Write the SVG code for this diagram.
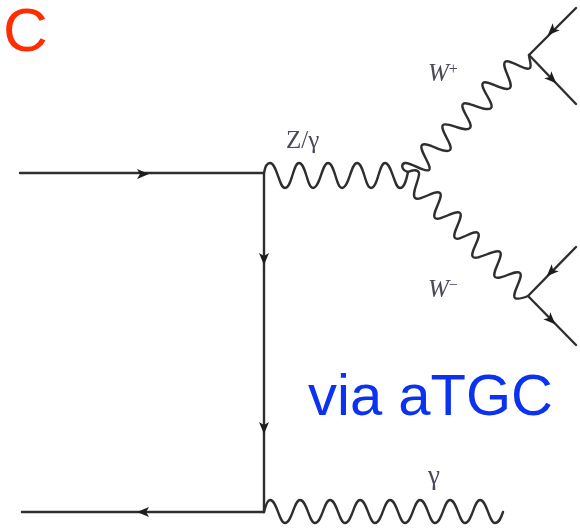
<svg xmlns="http://www.w3.org/2000/svg" width="580" height="528" viewBox="0 0 580 528">
<style>
.l{fill:none;stroke:#2e2e2e;stroke-width:2.4;stroke-linecap:round;stroke-linejoin:round}
.a{fill:#1c1c1c;stroke:none}
.s{font-family:"Liberation Serif",serif;fill:#4a4a5a}
.b{font-family:"Liberation Sans",Arial,sans-serif}
</style>
<defs>
<filter id="soft" x="-5%" y="-5%" width="110%" height="110%"><feGaussianBlur stdDeviation="0.6"/></filter>
<path id="ah" class="a" d="M6 0L-6 -5L-3 0L-6 5Z"/>
</defs>
<g id="connectors" filter="url(#soft)">
<path class="l" d="M20 173H264V512"/>
<path class="l" d="M264 512H22"/>
<path class="l" d="M264 173C265 167 267 163 270 163C277 163 279 188 285 188C292 188 293 163 299 163C306 163 307 188 313 188C320 188 322 163 328 163C335 163 336 188 342 188C349 188 351 163 357 163C364 163 365 188 371 188C378 188 379 163 385 163C392 163 394 188 400 188C404 188 406 182 408 172"/>
<path class="l" d="M408 172C401 170 401 164 405 163C411 162 424 173 429 170C433 167 418 149 422 145C427 141 445 155 450 150C454 146 439 129 443 125C447 121 465 133 470 128C474 124 459 108 463 104C467 100 486 113 491 108C495 104 479 87 483 83C487 79 505 93 510 88C514 84 501 66 505 62C509 58 526 72 530 68C532 65 529 59 529 55"/>
<path class="l" d="M408 172C412 170 418 169 419 173C420 178 411 194 415 198C420 202 435 189 440 193C444 197 431 214 435 218C439 222 456 209 460 213C464 217 451 234 455 238C459 242 474 229 478 233C482 237 469 253 473 257C477 261 496 248 500 252C504 256 491 273 495 277C499 281 516 269 520 273C524 277 511 294 515 298C518 300 523 298 528 296"/>
<path class="l" d="M264 512C266 504 268 500 270 500C277 500 279 523 285 523C292 523 294 500 300 500C307 500 309 523 315 523C322 523 324 500 330 500C337 500 339 523 345 523C352 523 354 500 360 500C367 500 369 523 375 523C382 523 384 500 390 500C397 500 399 523 405 523C412 523 414 500 420 500C427 500 429 523 435 523C442 523 444 500 450 500C457 500 459 523 465 523C472 523 474 500 480 500C487 500 489 523 495 523C499 523 501 518 503 512"/>
<path class="l" d="M576 8L529 55L576 104"/>
<path class="l" d="M576 247L528 296L576 345"/>
<use href="#ah" transform="translate(143 174)"/>
<use href="#ah" transform="translate(264 259) rotate(90)"/>
<use href="#ah" transform="translate(264 428) rotate(90)"/>
<use href="#ah" transform="translate(143 512) rotate(180)"/>
<use href="#ah" transform="translate(552 31) rotate(135)"/>
<use href="#ah" transform="translate(552 79) rotate(45)"/>
<use href="#ah" transform="translate(551 272) rotate(135)"/>
<use href="#ah" transform="translate(551 320) rotate(45)"/>
</g>
<g id="labels">
<text class="b" x="3" y="51" font-size="62" fill="#ff2d00">C</text>
<text class="b" x="308" y="415" font-size="58" fill="#0a32f0">via aTGC</text>
<g filter="url(#soft)">
<text class="s" x="286" y="148" font-size="25">Z/γ</text>
<text class="s" x="428" y="81" font-size="25" font-style="italic">W<tspan font-size="16" dy="-7" font-style="normal">+</tspan></text>
<text class="s" x="428" y="297" font-size="25" font-style="italic">W<tspan font-size="16" dy="-7" font-style="normal">−</tspan></text>
<text class="s" x="428" y="484" font-size="27">γ</text>
</g>
</g>
</svg>
